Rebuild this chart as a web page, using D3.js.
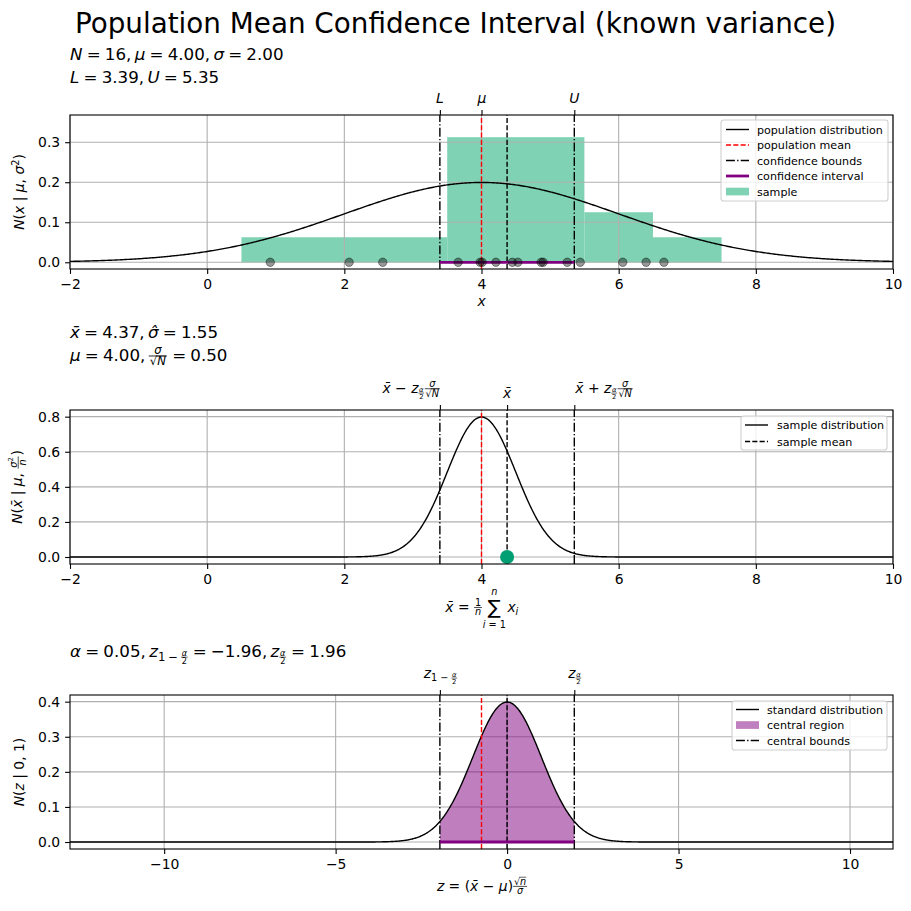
<!DOCTYPE html>
<html>
<head>
<meta charset="utf-8">
<script src="https://cdn.jsdelivr.net/npm/d3@7"></script>
<style>
  body { margin: 0; background: #fff; }
  svg { font-family: "DejaVu Sans", sans-serif; }
  svg text { white-space: pre; }
</style>
</head>
<body>
<svg id="fig" width="911" height="911"></svg>
<script>
// values
var sample = [0.92, 2.07, 2.56, 3.66, 3.98, 4.01, 4.21, 4.45, 4.53, 4.87, 4.90, 5.25, 5.44, 6.06, 6.40, 6.66];
var binEdges = [0.5, 3.5, 5.5, 6.5, 7.5];
var popMu = 4.0, popSigma = 2.0, alpha = 0.05, zCrit = 1.96;
var xTicks = [-2, 0, 2, 4, 6, 8, 10];
var zTicks = [-10, -5, 0, 5, 10];
var yTicks1 = [0, 0.1, 0.2, 0.3];
var yTicks2 = [0, 0.2, 0.4, 0.6, 0.8];
var yTicks3 = [0, 0.1, 0.2, 0.3, 0.4];

var N = sample.length;
var xbar = d3.mean(sample);
var se = popSigma / Math.sqrt(N);
var L = xbar - zCrit * se, U = xbar + zCrit * se;

function pdf(x, m, s) {
    return Math.exp(-0.5 * ((x - m) / s) * ((x - m) / s)) / (s * Math.sqrt(2 * Math.PI));
}

var svg = d3.select('#fig');
var left = 70, right = 893;
var tickFs = 13.9;
var dashed = '5.1,2.2', dashdot = '8.9,2.2,1.4,2.2';

// --- tiny math text layout ---
function lay(g, items, x, y, fs) {
    var cx = x;
    items.forEach(function(it) {
        if (typeof it === 'string') it = {t: it};
        if (it.frac) {
            var s = it.s || 0.7;
            var ng = g.append('g'), dg = g.append('g');
            var wn = lay(ng, it.frac[0], 0, 0, fs * s);
            var wd = lay(dg, it.frac[1], 0, 0, fs * s);
            var w = Math.max(wn, wd) + fs * 0.12;
            var ax = y - fs * 0.3;
            ng.attr('transform', 'translate(' + (cx + (w - wn) / 2) + ',' + (ax - fs * 0.1) + ')');
            dg.attr('transform', 'translate(' + (cx + (w - wd) / 2) + ',' + (ax + fs * s * 0.8) + ')');
            g.append('line').attr('x1', cx).attr('x2', cx + w).attr('y1', ax).attr('y2', ax)
                .attr('stroke', '#000').attr('stroke-width', Math.max(0.6, fs * 0.05));
            cx += w + fs * 0.06;
        } else if (it.sqrt) {
            var r = g.append('text').attr('x', cx).attr('y', y).attr('font-size', fs).text('\u221a');
            var wr = r.node().getComputedTextLength();
            var wi = lay(g, it.sqrt, cx + wr, y, fs);
            g.append('line').attr('x1', cx + wr * 0.85).attr('x2', cx + wr + wi).attr('y1', y - fs * 0.8).attr('y2', y - fs * 0.8)
                .attr('stroke', '#000').attr('stroke-width', Math.max(0.6, fs * 0.05));
            cx += wr + wi;
        } else if (it.sub) {
            cx += lay(g, it.sub, cx, y + fs * 0.22, fs * 0.7);
        } else if (it.sup) {
            cx += lay(g, it.sup, cx, y - fs * 0.38, fs * 0.7);
        } else if (it.sum) {
            var sg = g.append('text').attr('x', 0).attr('y', y + fs * 0.2).attr('font-size', fs * 1.4).text('\u2211');
            var ws = sg.node().getComputedTextLength();
            var hg = g.append('g'), lg = g.append('g');
            var wh = lay(hg, it.sum[0], 0, 0, fs * 0.7);
            var wl = lay(lg, it.sum[1], 0, 0, fs * 0.7);
            var w2 = Math.max(ws, wh, wl);
            sg.attr('x', cx + (w2 - ws) / 2);
            hg.attr('transform', 'translate(' + (cx + (w2 - wh) / 2) + ',' + (y - fs * 1.2) + ')');
            lg.attr('transform', 'translate(' + (cx + (w2 - wl) / 2) + ',' + (y + fs * 1.2) + ')');
            cx += w2 + fs * 0.1;
        } else {
            var t = g.append('text').attr('x', cx).attr('y', y).attr('font-size', fs * (it.s || 1)).text(it.t);
            if (it.i) t.attr('font-style', 'italic');
            cx += t.node().getComputedTextLength();
        }
    });
    return cx - x;
}

// place a math label; ax: 'start'|'middle'|'end', ay: 'base'|'top'|'bottom'
function mathLabel(parent, items, fs, x, y, ax, ay, rot) {
    var outer = parent.append('g');
    var g = outer.append('g');
    lay(g, items, 0, 0, fs);
    var bb = g.node().getBBox();
    if (rot) {
        outer.attr('transform', 'translate(' + x + ',' + y + ') rotate(-90)');
        g.attr('transform', 'translate(' + (-(bb.x + bb.width / 2)) + ',' + (-(bb.y + bb.height)) + ')');
        return;
    }
    var dx = ax === 'middle' ? -(bb.x + bb.width / 2) : ax === 'end' ? -(bb.x + bb.width) : -bb.x;
    if (ax === 'start0') dx = 0;
    var dy = ay === 'top' ? -bb.y : ay === 'bottom' ? -(bb.y + bb.height) : 0;
    outer.attr('transform', 'translate(' + (x + dx) + ',' + (y + dy) + ')');
}

var I = function(t) { return {t: t, i: true}; };
var XB = 'x\u0304';
var EQ = '\u2005=\u2005', CM = ',\u2009';
var aHalf = {frac: [[I('\u03b1')], ['2']]};
var sOverRootN = {frac: [[I('\u03c3')], [{sqrt: [I('N')]}]]};

// --- generic panel ---
function panel(o) {
    var g = svg.append('g');
    var x = o.x, y = o.y;
    var top = o.top, bottom = o.bottom;
    if (o.under) o.under(g);
    // grid
    g.append('g').selectAll('line').data(o.xt).enter().append('line')
        .attr('x1', function(d) { return x(d); }).attr('x2', function(d) { return x(d); })
        .attr('y1', top).attr('y2', bottom).attr('stroke', '#b0b0b0').attr('stroke-width', 1.1);
    g.append('g').selectAll('line').data(o.yt).enter().append('line')
        .attr('y1', function(d) { return y(d); }).attr('y2', function(d) { return y(d); })
        .attr('x1', left).attr('x2', right).attr('stroke', '#b0b0b0').attr('stroke-width', 1.1);
    o.draw(g);
    // spines
    g.append('rect').attr('x', left).attr('y', top).attr('width', right - left).attr('height', bottom - top)
        .attr('fill', 'none').attr('stroke', '#000').attr('stroke-width', 1.1);
    var fmtX = function(d) { return d < 0 ? '\u2212' + Math.abs(d) : '' + d; };
    var xa = g.append('g').attr('transform', 'translate(0,' + bottom + ')')
        .call(d3.axisBottom(x).tickValues(o.xt).tickFormat(fmtX).tickSize(4.9).tickPadding(4.9));
    var ya = g.append('g').attr('transform', 'translate(' + left + ',0)')
        .call(d3.axisLeft(y).tickValues(o.yt).tickFormat(d3.format('.1f')).tickSize(4.9).tickPadding(4.9));
    var ta = g.append('g').attr('transform', 'translate(0,' + top + ')')
        .call(d3.axisTop(x).tickValues(o.topTicks.map(function(d) { return d[0]; })).tickFormat('').tickSize(4.9));
    [xa, ya, ta].forEach(function(a) {
        a.select('.domain').remove();
        a.selectAll('line').attr('stroke', '#000').attr('stroke-width', 1.1);
        a.selectAll('text').attr('font-size', tickFs).attr('font-family', 'DejaVu Sans').attr('fill', '#000');
    });
    o.topTicks.forEach(function(d) {
        mathLabel(g, d[1], tickFs, x(d[0]), top - 9.5, d[2] || 'middle', 'bottom');
    });
    mathLabel(g, o.xlabel, tickFs, (left + right) / 2, bottom + o.xlabelY, 'middle', 'top');
    mathLabel(g, o.ylabel, tickFs, 28, (top + bottom) / 2, 'middle', 'base', true);
    o.title.forEach(function(line, i) {
        mathLabel(g, line, 16.7, left, o.titleY + i * 23, 'start0', 'base');
    });
    legend(g, o.legend);
}

function legend(g, lg) {
    var box = lg.box;
    g.append('rect').attr('x', box[0]).attr('y', box[1]).attr('width', box[2] - box[0]).attr('height', box[3] - box[1])
        .attr('rx', 2.8).attr('fill', '#fff').attr('fill-opacity', 0.8).attr('stroke', '#d0d0d0').attr('stroke-width', 1.1);
    lg.items.forEach(function(it, i) {
        var yy = lg.y0 + i * lg.dy;
        if (it.patch) {
            g.append('rect').attr('x', lg.sx).attr('y', yy - 3.8).attr('width', 23).attr('height', 7.7).attr('fill', it.patch);
        } else {
            g.append('line').attr('x1', lg.sx).attr('x2', lg.sx + 23).attr('y1', yy).attr('y2', yy)
                .attr('stroke', it.c).attr('stroke-width', it.w || 1.4).attr('stroke-dasharray', it.dash || null);
        }
        g.append('text').attr('x', lg.tx).attr('y', yy + 4).attr('font-size', 11.1).text(it.label);
    });
}

function vline(g, x, y, v, color, dash, w) {
    g.append('line').attr('x1', x(v)).attr('x2', x(v)).attr('y1', y.range()[0]).attr('y2', y.range()[1])
        .attr('stroke', color).attr('stroke-width', w || 1.4).attr('stroke-dasharray', dash);
}

var lineGen = function(x, y) { return d3.line().x(function(d) { return x(d[0]); }).y(function(d) { return y(d[1]); }); };

// ---- panel 1: population ----
var x1 = d3.scaleLinear().domain([-2, 10]).range([left, right]);
var y1 = d3.scaleLinear().domain([-0.0168, 0.368]).range([269, 115]);
var bins = d3.bin().domain([binEdges[0], binEdges[binEdges.length - 1]]).thresholds(binEdges.slice(1, -1))(sample);
var popCurve = d3.range(-2, 10.001, 0.02).map(function(v) { return [v, pdf(v, popMu, popSigma)]; });

panel({
    x: x1, y: y1, top: 115, bottom: 269, xt: xTicks, yt: yTicks1,
    under: function(g) {
        g.selectAll('.bar').data(bins).enter().append('rect')
            .attr('x', function(d) { return x1(d.x0); })
            .attr('width', function(d) { return x1(d.x1) - x1(d.x0); })
            .attr('y', function(d) { return y1(d.length / (N * (d.x1 - d.x0))); })
            .attr('height', function(d) { return y1(0) - y1(d.length / (N * (d.x1 - d.x0))); })
            .attr('fill', '#7fd2b4');
    },
    draw: function(g) {
        g.append('path').datum(popCurve).attr('d', lineGen(x1, y1)).attr('fill', 'none').attr('stroke', '#000').attr('stroke-width', 1.4);
        vline(g, x1, y1, popMu, 'red', dashed);
        vline(g, x1, y1, L, '#000', dashdot);
        vline(g, x1, y1, U, '#000', dashdot);
        vline(g, x1, y1, xbar, '#000', dashed);
        g.append('line').attr('x1', x1(L)).attr('x2', x1(U)).attr('y1', y1(0)).attr('y2', y1(0))
            .attr('stroke', 'purple').attr('stroke-width', 2.8);
        g.selectAll('.pt').data(sample).enter().append('circle')
            .attr('cx', function(d) { return x1(d); }).attr('cy', y1(0)).attr('r', 4.2)
            .attr('fill', '#000').attr('fill-opacity', 0.4).attr('stroke', '#000').attr('stroke-opacity', 0.4);
    },
    topTicks: [[L, [I('L')]], [popMu, [I('\u03bc')]], [U, [I('U')]]],
    xlabel: [I('x')], xlabelY: 24,
    ylabel: [I('N'), '(', I('x'), ' | ', I('\u03bc'), ', ', I('\u03c3'), {sup: ['2']}, ')'],
    title: [
        [I('N'), EQ + N + CM, I('\u03bc'), EQ + popMu.toFixed(2) + CM, I('\u03c3'), EQ + popSigma.toFixed(2)],
        [I('L'), EQ + L.toFixed(2) + CM, I('U'), EQ + U.toFixed(2)]
    ],
    titleY: 60,
    legend: {
        box: [721, 120, 888, 201], y0: 129.5, dy: 15.5, sx: 726, tx: 757,
        items: [
            {label: 'population distribution', c: '#000'},
            {label: 'population mean', c: 'red', dash: dashed},
            {label: 'confidence bounds', c: '#000', dash: dashdot},
            {label: 'confidence interval', c: 'purple', w: 2.8},
            {label: 'sample', patch: '#7fd2b4'}
        ]
    }
});

// ---- panel 2: sampling distribution ----
var y2 = d3.scaleLinear().domain([-0.0399, 0.838]).range([564, 410]);
var sampCurve = d3.range(-2, 10.001, 0.01).map(function(v) { return [v, pdf(v, popMu, se)]; });
var sampleStd = d3.deviation(sample);

panel({
    x: x1, y: y2, top: 410, bottom: 564, xt: xTicks, yt: yTicks2,
    draw: function(g) {
        g.append('path').datum(sampCurve).attr('d', lineGen(x1, y2)).attr('fill', 'none').attr('stroke', '#000').attr('stroke-width', 1.4);
        vline(g, x1, y2, popMu, 'red', dashed);
        vline(g, x1, y2, L, '#000', dashdot);
        vline(g, x1, y2, U, '#000', dashdot);
        vline(g, x1, y2, xbar, '#000', dashed);
        g.append('circle').attr('cx', x1(xbar)).attr('cy', y2(0)).attr('r', 7).attr('fill', '#009e73');
    },
    topTicks: [
        [L, [I(XB), ' \u2212 ', I('z'), {sub: [aHalf]}, sOverRootN], 'end'],
        [xbar, [I(XB)]],
        [U, [I(XB), ' + ', I('z'), {sub: [aHalf]}, sOverRootN], 'start']
    ],
    xlabel: [I(XB), ' = ', {frac: [['1'], [I('n')]]}, {sum: [[I('n')], [I('i'), ' = 1']]}, I('x'), {sub: [I('i')]}], xlabelY: 22,
    ylabel: [I('N'), '(', I(XB), ' | ', I('\u03bc'), ', ', {frac: [[I('\u03c3'), {sup: ['2']}], [I('n')]]}, ')'],
    title: [
        [I(XB), EQ + xbar.toFixed(2) + CM, I('\u03c3\u0302'), EQ + sampleStd.toFixed(2)],
        [I('\u03bc'), EQ + popMu.toFixed(2) + CM, sOverRootN, EQ + se.toFixed(2)]
    ],
    titleY: 338,
    legend: {
        box: [741, 416, 887, 450], y0: 425, dy: 16.5, sx: 745, tx: 777,
        items: [
            {label: 'sample distribution', c: '#000'},
            {label: 'sample mean', c: '#000', dash: dashed}
        ]
    }
});

// ---- panel 3: standardised ----
var toZ = function(v) { return (v - xbar) / se; };
var x3 = d3.scaleLinear().domain([toZ(-2), toZ(10)]).range([left, right]);
var y3 = d3.scaleLinear().domain([-0.0199, 0.419]).range([849, 695]);
var stdCurve = d3.range(toZ(-2), toZ(10) + 0.001, 0.02).map(function(v) { return [v, pdf(v, 0, 1)]; });
var central = d3.range(-zCrit, zCrit + 0.0001, 0.02).map(function(v) { return [v, pdf(v, 0, 1)]; });

panel({
    x: x3, y: y3, top: 695, bottom: 849, xt: zTicks, yt: yTicks3,
    draw: function(g) {
        g.append('path').datum(central)
            .attr('d', d3.area().x(function(d) { return x3(d[0]); }).y0(y3(0)).y1(function(d) { return y3(d[1]); }))
            .attr('fill', 'purple').attr('fill-opacity', 0.5);
        g.append('path').datum(stdCurve).attr('d', lineGen(x3, y3)).attr('fill', 'none').attr('stroke', '#000').attr('stroke-width', 1.4);
        vline(g, x3, y3, toZ(popMu), 'red', dashed);
        vline(g, x3, y3, -zCrit, '#000', dashdot);
        vline(g, x3, y3, zCrit, '#000', dashdot);
        vline(g, x3, y3, 0, '#000', dashed);
        g.append('line').attr('x1', x3(-zCrit)).attr('x2', x3(zCrit)).attr('y1', y3(0)).attr('y2', y3(0))
            .attr('stroke', 'purple').attr('stroke-width', 2.8);
    },
    topTicks: [
        [-zCrit, [I('z'), {sub: ['1 \u2212 ', aHalf]}]],
        [zCrit, [I('z'), {sub: [aHalf]}]]
    ],
    xlabel: [I('z'), ' = (', I(XB), ' \u2212 ', I('\u03bc'), ')', {frac: [[{sqrt: [I('n')]}], [I('\u03c3')]]}], xlabelY: 27,
    ylabel: [I('N'), '(', I('z'), ' | 0, 1)'],
    title: [
        [I('\u03b1'), EQ + alpha.toFixed(2) + CM, I('z'), {sub: ['1\u2005\u2212\u2005', aHalf]}, EQ + '\u2212' + zCrit.toFixed(2) + CM, I('z'), {sub: [aHalf]}, EQ + zCrit.toFixed(2)]
    ],
    titleY: 657,
    legend: {
        box: [732, 701, 887, 750], y0: 709.5, dy: 15.5, sx: 736, tx: 767,
        items: [
            {label: 'standard distribution', c: '#000'},
            {label: 'central region', patch: '#bf80bf'},
            {label: 'central bounds', c: '#000', dash: dashdot}
        ]
    }
});

svg.append('text').attr('x', 455.5).attr('y', 33).attr('text-anchor', 'middle').attr('font-size', 27.8)
    .text('Population Mean Confidence Interval (known variance)');
</script>
</body>
</html>
